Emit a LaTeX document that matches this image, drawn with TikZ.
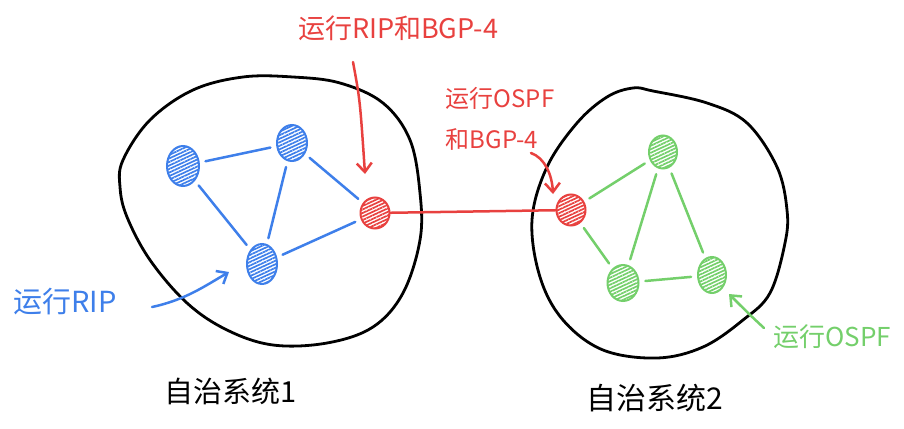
\documentclass[tikz,border=0pt]{standalone}
\usepackage{fontspec}
\setmainfont{Noto Sans CJK SC}
\usetikzlibrary{arrows.meta,patterns.meta,shapes.geometric}
\definecolor{hblue}{HTML}{3E7FEA}
\definecolor{hred}{HTML}{E8413F}
\definecolor{hgreen}{HTML}{74CF6B}
\begin{document}
\begin{tikzpicture}[x=1pt,y=-1pt,
  blob/.style={draw=black,line width=2.8pt,line join=round},
  router/.style={ellipse,draw=#1,line width=2pt,inner sep=0pt,
    pattern={Lines[angle=25,distance=3.2pt,line width=1.7pt]},pattern color=#1},
  link/.style={draw=#1,line width=2.5pt,line cap=round,shorten >=6pt,shorten <=6pt},
  pointer/.style={draw=#1,line width=2.5pt,line cap=round,
    -{Straight Barb[length=9pt,width=15pt,line width=2.5pt]}},
  lbl/.style={text=#1,inner sep=0pt}]
\useasboundingbox (0,0) rectangle (904,428);

% autonomous systems
\draw[blob] plot[smooth cycle,tension=0.6] coordinates {
  (123,160) (150,120) (193,90) (243,77) (293,77) (340,83) (383,103)
  (410,140) (420,193) (420,240) (403,293) (373,327) (327,343) (273,345)
  (227,330) (187,303) (150,260) (127,217) (120,187)};
\draw[blob] plot[smooth cycle,tension=0.6] coordinates {
  (633,88) (653,91) (707,103) (747,123) (777,167) (787,210) (785,243)
  (770,293) (743,320) (703,347) (657,358) (603,350) (563,320) (540,277)
  (532,220) (547,167) (577,123) (607,97)};

% routers
\node[router=hblue,minimum width=32pt,minimum height=40pt] (A) at (183,166) {};
\node[router=hblue,minimum width=30pt,minimum height=36pt] (B) at (292,143) {};
\node[router=hblue,minimum width=30pt,minimum height=40pt] (C) at (262,264) {};
\node[router=hred,minimum width=29pt,minimum height=31pt] (R1) at (375,213) {};
\node[router=hred,minimum width=29pt,minimum height=31pt] (R2) at (571,210) {};
\node[router=hgreen,minimum width=28pt,minimum height=33pt] (G1) at (663,152) {};
\node[router=hgreen,minimum width=31pt,minimum height=36pt] (G2) at (623,283) {};
\node[router=hgreen,minimum width=28pt,minimum height=36pt] (G3) at (712,275) {};

% links
\draw[link=hblue] (A) -- (B);
\draw[link=hblue] (A) -- (C);
\draw[link=hblue] (B) -- (C);
\draw[link=hblue] (B) -- (R1);
\draw[link=hblue] (C) -- (R1);
\draw[draw=hred,line width=2.5pt,line cap=round] (R1) -- (R2);
\draw[link=hgreen] (R2) -- (G1);
\draw[link=hgreen] (R2) -- (G2);
\draw[link=hgreen] (G1) -- (G2);
\draw[link=hgreen] (G1) -- (G3);
\draw[link=hgreen] (G2) -- (G3);

% labels
\node[lbl=hred,font=\fontsize{27pt}{32pt}\selectfont] (t1) at (398,28) {运行RIP和BGP-4};
\node[lbl=hred,font=\fontsize{24pt}{41pt}\selectfont,align=left] (t2) at (500,119) {运行OSPF\\和BGP-4};
\node[lbl=hblue,font=\fontsize{29pt}{32pt}\selectfont] (t3) at (65,302) {运行RIP};
\node[lbl=hgreen,font=\fontsize{26pt}{32pt}\selectfont] (t4) at (832,337) {运行OSPF};
\node[lbl=black,font=\fontsize{29pt}{32pt}\selectfont] (t5) at (231,391) {自治系统1};
\node[lbl=black,font=\fontsize{30pt}{32pt}\selectfont] (t6) at (655,398) {自治系统2};

% pointers
\coordinate (a1s) at (353,62);
\coordinate (a1e) at (365,174);
\coordinate (a2s) at (531,153);
\coordinate (a2e) at (553,194);
\coordinate (a3s) at (152,307);
\coordinate (a3e) at (229,272);
\coordinate (a4s) at (764,328);
\coordinate (a4e) at (729,294);
\draw[pointer=hred] (a1s) .. controls (360,100) .. (a1e);
\draw[pointer=hred] (a2s) .. controls (545,158) and (552,175) .. (a2e);
\draw[pointer=hblue] (a3s) .. controls (185,300) and (205,286) .. (a3e);
\draw[pointer=hgreen] (a4s) .. controls (750,315) .. (a4e);
\end{tikzpicture}
\end{document}
